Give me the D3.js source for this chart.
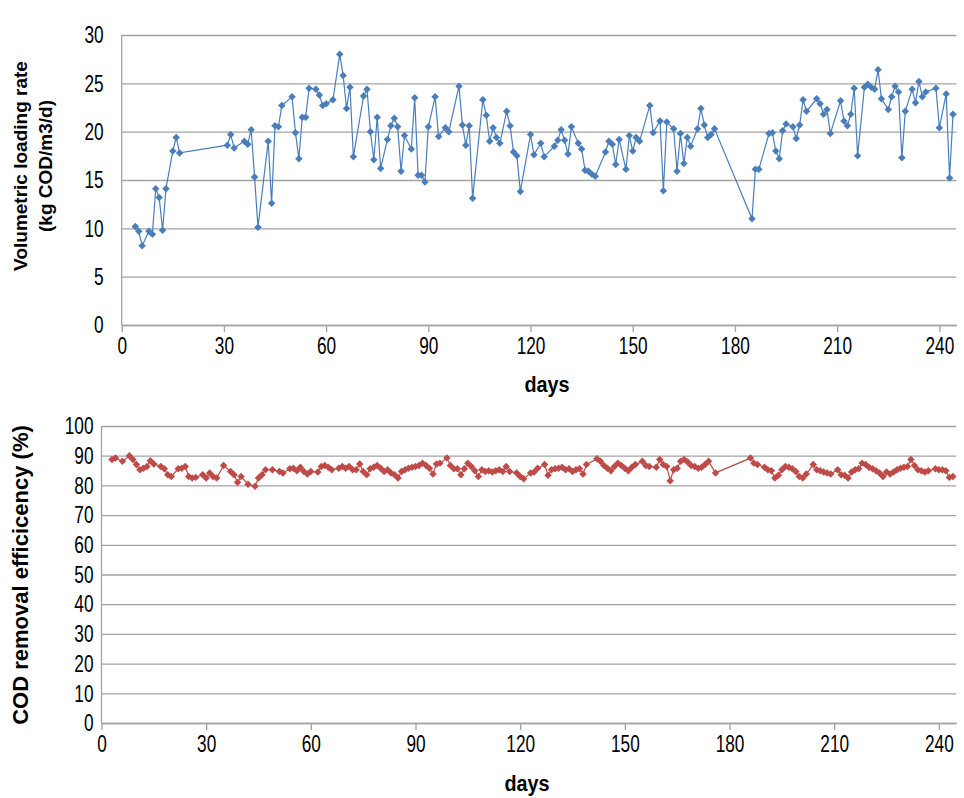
<!DOCTYPE html>
<html>
<head>
<meta charset="utf-8">
<script src="https://cdn.jsdelivr.net/npm/d3@7"></script>
<style>
  body { margin: 0; background: #fff; }
  text { font-family: "Liberation Sans", Arial, sans-serif; fill: #000; }
</style>
</head>
<body>
<script>
// top chart: volumetric loading rate
const loadDays = [4,5,6,8,9,10,11,12,13,15,16,17,31,32,33,36,37,38,39,40,43,44,45,46,47,50,51,52,53,54,55,57,58,59,60,62,64,65,66,67,68,71,72,73,74,75,76,78,79,80,81,82,83,85,86,87,88,89,90,92,93,95,96,99,100,101,102,103,106,107,108,109,110,111,113,114,115,116,117,120,121,123,124,127,128,129,130,131,132,134,135,136,137,138,139,142,143,144,145,146,148,149,150,151,152,155,156,158,159,160,162,163,164,165,166,167,169,170,171,172,173,174,185,186,187,190,191,192,193,194,195,197,198,199,200,201,204,205,206,207,208,211,212,213,214,215,216,218,219,220,221,222,223,225,226,227,228,229,230,232,233,234,235,236,239,240,242,243,244];
const loadRate = [10.2,9.7,8.2,9.7,9.4,14.1,13.2,9.8,14.1,18.0,19.4,17.8,18.6,19.7,18.3,19.0,18.7,20.2,15.3,10.1,19.0,12.6,20.6,20.5,22.7,23.6,19.9,17.2,21.5,21.5,24.5,24.4,23.8,22.7,22.9,23.3,28.0,25.8,22.4,24.6,17.4,23.7,24.4,20.0,17.1,21.5,16.2,19.2,20.6,21.4,20.5,15.9,19.6,18.2,23.5,15.5,15.5,14.8,20.5,23.6,19.5,20.4,20.0,24.7,20.7,18.6,20.6,13.1,23.3,21.7,19.0,20.4,19.4,18.8,22.1,20.6,17.9,17.5,13.8,19.7,17.6,18.8,17.4,18.5,19.1,20.2,19.1,17.7,20.5,18.8,18.2,16.0,15.9,15.6,15.4,17.9,19.0,18.7,16.6,19.2,16.1,19.6,18.0,19.4,19.0,22.7,19.9,21.1,13.9,21.0,20.3,15.9,19.8,16.7,19.4,18.5,20.3,22.4,20.7,19.4,19.7,20.3,11.0,16.1,16.1,19.8,19.9,18.0,17.2,20.1,20.8,20.5,19.3,20.7,23.3,22.1,23.4,22.9,21.8,22.3,19.8,23.2,21.1,20.6,21.8,24.5,17.5,24.6,24.9,24.6,24.4,26.4,23.4,22.3,23.6,24.7,24.1,17.3,22.1,24.4,23.0,25.2,23.6,24.1,24.5,20.4,23.9,15.2,21.8];

// bottom chart: COD removal efficiency
const codDays = [3,4,6,8,9,10,11,12,13,14,15,17,18,19,20,22,23,24,25,26,27,29,30,31,32,33,35,37,38,39,40,42,44,45,46,47,49,51,52,54,55,56,57,58,59,60,62,63,64,65,66,68,69,70,71,72,73,74,75,76,77,78,79,80,81,82,83,84,85,86,87,88,89,90,91,92,93,94,95,96,97,99,100,101,102,103,104,105,106,107,108,109,110,111,112,113,114,115,116,117,119,120,121,123,124,125,127,128,129,130,131,132,133,134,135,136,137,138,139,142,143,144,145,146,147,148,149,150,151,152,153,155,156,157,159,160,161,162,163,164,165,166,167,168,169,170,171,172,173,174,176,186,187,188,190,191,192,193,194,195,196,197,198,199,200,201,202,204,205,206,207,208,209,211,212,213,214,215,216,217,218,219,220,221,222,223,224,225,226,227,228,229,230,231,232,233,234,235,236,237,239,240,241,242,243,244];
const codEff = [88.7,89.2,88.1,90.0,88.7,87.0,85.3,85.8,86.4,88.3,87.2,86.4,85.6,83.6,83.0,85.6,85.8,86.4,83.0,82.5,82.7,83.6,82.5,84.2,83.0,82.5,86.7,84.7,83.6,81.1,83.0,80.4,79.7,82.5,83.6,85.3,85.3,84.7,84.2,85.6,85.8,84.9,86.1,84.7,83.8,84.7,84.5,86.4,86.7,86.1,85.3,85.8,86.4,85.8,86.4,85.3,85.3,87.2,84.7,83.6,85.6,86.1,86.7,85.8,84.7,85.3,84.2,83.6,82.5,84.7,85.3,85.8,86.1,86.4,86.7,87.5,86.7,85.8,83.8,87.2,87.5,89.2,86.7,85.6,85.6,83.6,85.6,87.5,86.4,84.9,83.0,85.3,84.7,84.9,84.5,84.9,85.3,84.7,86.4,84.7,84.2,83.0,82.2,84.2,84.5,85.8,87.0,83.4,85.3,85.6,85.8,86.1,85.3,85.6,84.7,85.3,85.6,83.8,87.0,89.0,88.1,86.7,85.8,84.9,86.4,87.5,86.7,85.8,84.9,86.1,87.0,88.1,86.7,86.4,86.1,88.7,87.0,86.4,81.6,85.3,85.8,88.1,88.7,87.9,86.7,86.4,85.8,86.1,87.0,88.1,84.2,89.2,87.5,87.0,86.1,85.3,84.9,82.5,83.4,85.3,86.4,86.1,85.6,84.7,83.0,82.5,83.8,87.0,85.3,84.9,84.5,84.2,83.8,85.3,83.6,83.4,82.5,84.5,85.3,85.6,87.5,87.0,86.1,85.6,84.9,84.2,83.0,84.5,83.8,84.5,85.3,85.8,86.1,86.4,88.7,86.7,85.3,84.9,84.5,84.9,85.6,85.3,85.3,84.9,82.7,83.0];

const dayTicks = [0,30,60,90,120,150,180,210,240];
const loadTicks = [0,5,10,15,20,25,30];
const codTicks = [0,10,20,30,40,50,60,70,80,90,100];

const W = 964, H = 798;
const gridColor = '#a3a3a3';
const squeeze = 0.75;   // tick labels in the original look narrow

const svg = d3.select('body').append('svg')
    .attr('width', W)
    .attr('height', H);

svg.append('rect').attr('width', W).attr('height', H).attr('fill', '#fff');

function drawPanel(opts) {
    const g = svg.append('g');
    const x = d3.scaleLinear().domain([0, 245]).range([opts.left, opts.right]);
    const y = d3.scaleLinear().domain([0, opts.yMax]).range([opts.bottom, opts.top]);

    // horizontal gridlines
    g.append('g')
        .attr('transform', `translate(${opts.left},0)`)
        .call(d3.axisLeft(y).tickValues(opts.yTicks).tickSize(-(opts.right - opts.left)).tickFormat(''))
        .call(a => a.select('.domain').remove())
        .call(a => a.selectAll('line').attr('stroke', gridColor).attr('stroke-width', 1.3));

    // y axis line + labels
    g.append('line')
        .attr('x1', opts.left).attr('x2', opts.left)
        .attr('y1', opts.top).attr('y2', opts.bottom)
        .attr('stroke', gridColor).attr('stroke-width', 1.3);
    g.selectAll('.ylab')
        .data(opts.yTicks)
        .enter()
        .append('text')
        .attr('transform', d => `translate(${opts.left - opts.yLabGap},${y(d)}) scale(${squeeze},1)`)
        .attr('dy', '0.36em')
        .attr('text-anchor', 'end')
        .style('font-size', '23px')
        .text(d => d);

    // x axis
    g.append('g')
        .attr('transform', `translate(0,${opts.bottom})`)
        .call(d3.axisBottom(x).tickValues(dayTicks).tickSize(7).tickSizeOuter(0).tickPadding(6))
        .call(a => a.select('.domain').attr('stroke', gridColor).attr('stroke-width', 1.3))
        .call(a => a.selectAll('.tick line').attr('stroke', gridColor).attr('stroke-width', 1.3))
        .call(a => a.selectAll('.tick text')
            .attr('transform', `scale(${squeeze},1)`)
            .style('font-size', '23px')
            .style('font-family', '"Liberation Sans", Arial, sans-serif')
            .attr('fill', '#000'));

    g.append('text')
        .attr('transform', `translate(${opts.xTitleX},${opts.xTitleY}) scale(0.9,1)`)
        .attr('text-anchor', 'middle')
        .style('font-size', '22px')
        .style('font-weight', 'bold')
        .text('days');

    // y title (one or more lines)
    opts.yTitle.forEach((t, i) => {
        g.append('text')
            .attr('transform', `translate(${opts.yTitleX[i]},${opts.yTitleY}) rotate(-90)`)
            .attr('text-anchor', 'middle')
            .style('font-size', opts.yTitleSize + 'px')
            .style('font-weight', 'bold')
            .text(t);
    });

    // series
    const pts = opts.days.map((d, i) => [d, opts.values[i]]);
    const line = d3.line().x(d => x(d[0])).y(d => y(d[1]));
    g.append('path')
        .datum(pts)
        .attr('d', line)
        .attr('fill', 'none')
        .attr('stroke', opts.color)
        .attr('stroke-width', 1.2);

    const diamond = d3.symbol().type(d3.symbolSquare).size(28);
    g.selectAll('.mark')
        .data(pts)
        .enter()
        .append('path')
        .attr('d', diamond)
        .attr('transform', d => `translate(${x(d[0])},${y(d[1])}) rotate(45)`)
        .attr('fill', opts.color);
}

drawPanel({
    left: 121.7, right: 956.4, top: 35, bottom: 325,
    yMax: 30, yTicks: loadTicks, yLabGap: 18,
    days: loadDays, values: loadRate, color: '#4a7ebb',
    yTitle: ['Volumetric loading rate', '(kg COD/m3/d)'],
    yTitleX: [27, 52], yTitleY: 166, yTitleSize: 19,
    xTitleX: 547, xTitleY: 392
});

drawPanel({
    left: 101.5, right: 956.3, top: 426, bottom: 723,
    yMax: 100, yTicks: codTicks, yLabGap: 8,
    days: codDays, values: codEff, color: '#be4b48',
    yTitle: ['COD removal efficicency (%)'],
    yTitleX: [28], yTitleY: 575, yTitleSize: 22,
    xTitleX: 527, xTitleY: 791
});
</script>
</body>
</html>
